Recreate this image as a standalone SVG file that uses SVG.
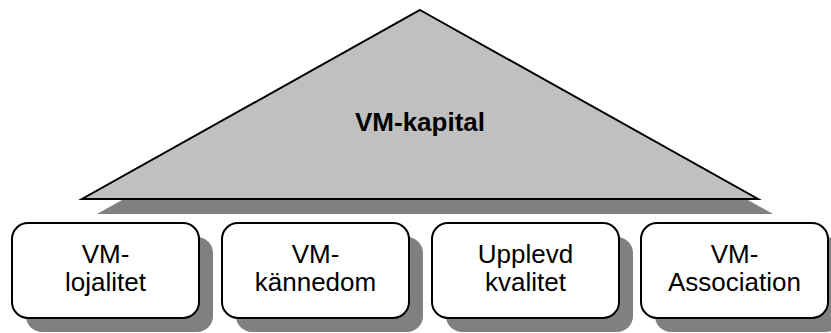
<svg xmlns="http://www.w3.org/2000/svg" width="831" height="333" viewBox="0 0 831 333">
  <style>
    .shadow { fill: #808080; stroke: none; }
    .tri { fill: #c0c0c0; stroke: #000; stroke-width: 2; stroke-linejoin: miter; }
    .box { fill: #fff; stroke: #000; stroke-width: 2; }
    .title { font-family: "Liberation Sans", Arial, sans-serif; font-size: 26px; font-weight: bold; fill: #000; text-anchor: middle; }
    .label { font-family: "Liberation Sans", Arial, sans-serif; font-size: 26px; fill: #000; text-anchor: middle; }
  </style>
  <rect width="831" height="333" fill="#fff"/>

  <!-- pyramid top -->
  <g id="vm-kapital">
    <polygon class="shadow" points="435,25 773,214 97,214"/>
    <polygon class="tri" points="420,10 758,199 82,199"/>
    <text class="title" x="420" y="131">VM-kapital</text>
  </g>

  <g id="connectors"></g>

  <!-- foundation blocks -->
  <g id="vm-lojalitet">
    <rect class="shadow" x="26" y="237" width="187" height="95" rx="16"/>
    <rect class="box" x="12" y="223" width="187" height="95" rx="16"/>
    <text class="label" x="105.5" y="263">VM-</text>
    <text class="label" x="105.5" y="291">lojalitet</text>
  </g>
  <g id="vm-kannedom">
    <rect class="shadow" x="236" y="237" width="187" height="95" rx="16"/>
    <rect class="box" x="222" y="223" width="187" height="95" rx="16"/>
    <text class="label" x="315.5" y="263">VM-</text>
    <text class="label" x="315.5" y="291">kännedom</text>
  </g>
  <g id="upplevd-kvalitet">
    <rect class="shadow" x="446" y="237" width="187" height="95" rx="16"/>
    <rect class="box" x="432" y="223" width="187" height="95" rx="16"/>
    <text class="label" x="525.5" y="263">Upplevd</text>
    <text class="label" x="525.5" y="291">kvalitet</text>
  </g>
  <g id="vm-association">
    <rect class="shadow" x="655" y="237" width="187" height="95" rx="16"/>
    <rect class="box" x="641" y="223" width="187" height="95" rx="16"/>
    <text class="label" x="734.5" y="263">VM-</text>
    <text class="label" x="734.5" y="291">Association</text>
  </g>
</svg>
